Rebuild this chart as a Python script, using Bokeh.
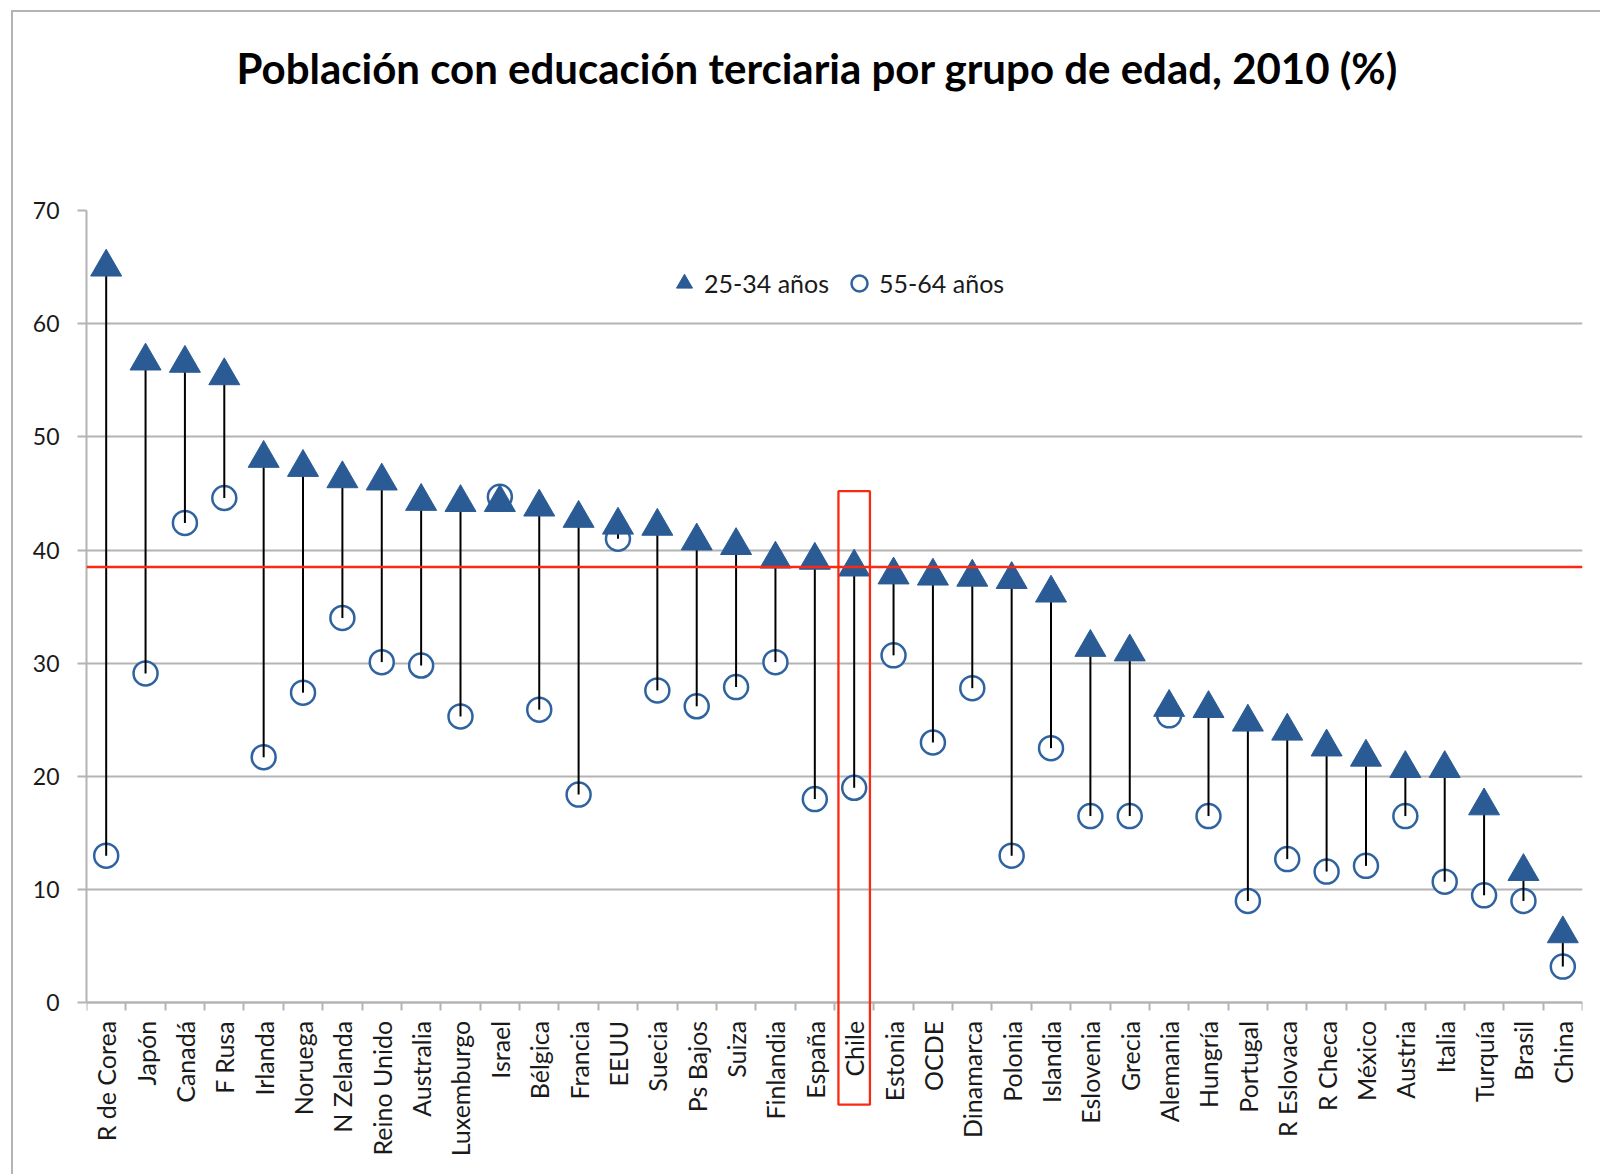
import math
from bokeh.plotting import figure
from bokeh.models import (Range1d, FixedTicker, Span, BoxAnnotation, Legend, LegendItem, Title)
from bokeh.embed import file_html
from bokeh.resources import INLINE

# ---------------- data ----------------
countries = ["R de Corea", "Japón", "Canadá", "F Rusa", "Irlanda", "Noruega", "N Zelanda",
             "Reino Unido", "Australia", "Luxemburgo", "Israel", "Bélgica", "Francia", "EEUU",
             "Suecia", "Ps Bajos", "Suiza", "Finlandia", "España", "Chile", "Estonia", "OCDE",
             "Dinamarca", "Polonia", "Islandia", "Eslovenia", "Grecia", "Alemania", "Hungría",
             "Portugal", "R Eslovaca", "R Checa", "México", "Austria", "Italia", "Turquía",
             "Brasil", "China"]
age_25_34 = [65.0, 56.7, 56.5, 55.4, 48.1, 47.3, 46.3, 46.1, 44.3, 44.2, 44.2, 43.8, 42.8, 42.2,
             42.1, 40.8, 40.4, 39.2, 39.1, 38.5, 37.8, 37.7, 37.6, 37.4, 36.2, 31.4, 31.0, 26.1,
             26.0, 24.8, 24.0, 22.6, 21.7, 20.7, 20.7, 17.4, 11.6, 6.1]
age_55_64 = [13.0, 29.1, 42.4, 44.6, 21.7, 27.4, 34.0, 30.1, 29.8, 25.3, 44.7, 25.9, 18.4, 41.0,
             27.6, 26.2, 27.9, 30.1, 18.0, 19.0, 30.7, 23.0, 27.8, 13.0, 22.5, 16.5, 16.5, 25.4,
             16.5, 9.0, 12.7, 11.6, 12.1, 16.5, 10.7, 9.5, 9.0, 3.2]
legend_labels = ["25-34 años", "55-64 años"]
y_ticks = [0, 10, 20, 30, 40, 50, 60, 70]
title_text = "Población con educación terciaria por grupo de edad, 2010 (%)"
highlight = "Chile"

# ---------------- styles ----------------
BLUE = "#2a5b95"
BLUE_LINE = "#2f63a0"
GRID = "#b4b4b4"
RED = "#fa2a12"
TXT = "#1a1a1a"
FONT = "Lato"

n = len(countries)
xpos = list(range(n))  # category slots on the x scale
Y_FLOOR = -13.93      # frame extends below 0 so the category labels and the red box fit in it

p = figure(x_range=Range1d(-0.5, n - 0.5), y_range=Range1d(Y_FLOOR, 70), width=1589,
           height=1164, output_backend="svg", toolbar_location=None,
           min_border_left=73, min_border_right=20, min_border_top=198, min_border_bottom=16)
p.styles = {"margin-left": "11px", "margin-top": "10px",
            "border-left": "2px solid #b4b4b4", "border-top": "2px solid #b4b4b4"}
p.outline_line_color = None
p.xgrid.grid_line_color = None
p.background_fill_color = "white"

# title: a thin spacer panel next to the frame, the title above it
p.add_layout(Title(text=" ", text_font_size="1px", standoff=115), "above")
p.add_layout(Title(text=title_text, align="left", offset=150, standoff=0,
                   text_font=FONT, text_font_style="bold", text_font_size="42px",
                   text_color="black"), "above")

# y axis and grid
p.yaxis.bounds = (0, 70)
p.yaxis.ticker = FixedTicker(ticks=y_ticks)
p.ygrid.ticker = FixedTicker(ticks=y_ticks)
p.ygrid.grid_line_color = GRID
p.ygrid.grid_line_width = 2
p.yaxis.axis_line_color = GRID
p.yaxis.axis_line_width = 2
p.yaxis.major_tick_line_color = GRID
p.yaxis.major_tick_line_width = 2
p.yaxis.major_tick_out = 9
p.yaxis.major_tick_in = 0
p.yaxis.minor_tick_line_color = None
p.yaxis.major_label_standoff = 18
p.yaxis.major_label_text_font = FONT
p.yaxis.major_label_text_font_size = "23px"
p.yaxis.major_label_text_color = TXT

# x axis at y=0: country names at slot centres, ticks at slot boundaries
xa = p.xaxis[0]
xa.fixed_location = 0
xa.ticker = FixedTicker(ticks=xpos, minor_ticks=[i - 0.5 for i in range(n + 1)])
xa.major_label_overrides = {i: name for i, name in enumerate(countries)}
xa.major_tick_line_color = None
xa.major_tick_out = 0
xa.major_tick_in = 0
xa.minor_tick_line_color = GRID
xa.minor_tick_line_width = 2
xa.minor_tick_out = 8
xa.minor_tick_in = 0
xa.axis_line_color = GRID
xa.axis_line_width = 2
xa.major_label_orientation = math.pi / 2
xa.major_label_standoff = 10
xa.major_label_text_font = FONT
xa.major_label_text_font_size = "25px"
xa.major_label_text_color = TXT

# marks
r_old = p.scatter(xpos, age_55_64, marker="circle", size=24, fill_color="white",
                  line_color=BLUE_LINE, line_width=2.5)
p.segment(x0=xpos, y0=age_55_64, x1=xpos, y1=age_25_34, line_color="black", line_width=2)
r_young = p.scatter(xpos, age_25_34, marker="triangle", size=31, fill_color=BLUE,
                    line_color=BLUE)

# highlight of Chile
hi = countries.index(highlight)
p.add_layout(Span(location=age_25_34[hi], dimension="width", line_color=RED, line_width=2.5))
p.add_layout(BoxAnnotation(left=hi - 0.4, right=hi + 0.4, top=45.2, bottom=-9.0,
                           fill_alpha=0, line_color=RED, line_alpha=1.0, line_width=2.3))

legend = Legend(items=[LegendItem(label=legend_labels[0], renderers=[r_young]),
                       LegendItem(label=legend_labels[1], renderers=[r_old])],
                orientation="horizontal", location=(578, 857), glyph_width=40, glyph_height=40,
                label_standoff=0, spacing=10, padding=0, margin=0, border_line_color=None,
                background_fill_alpha=0, label_text_font=FONT, label_text_font_size="25px",
                label_text_color=TXT)
p.add_layout(legend)

open("out.html", "w").write(file_html(p, INLINE))
